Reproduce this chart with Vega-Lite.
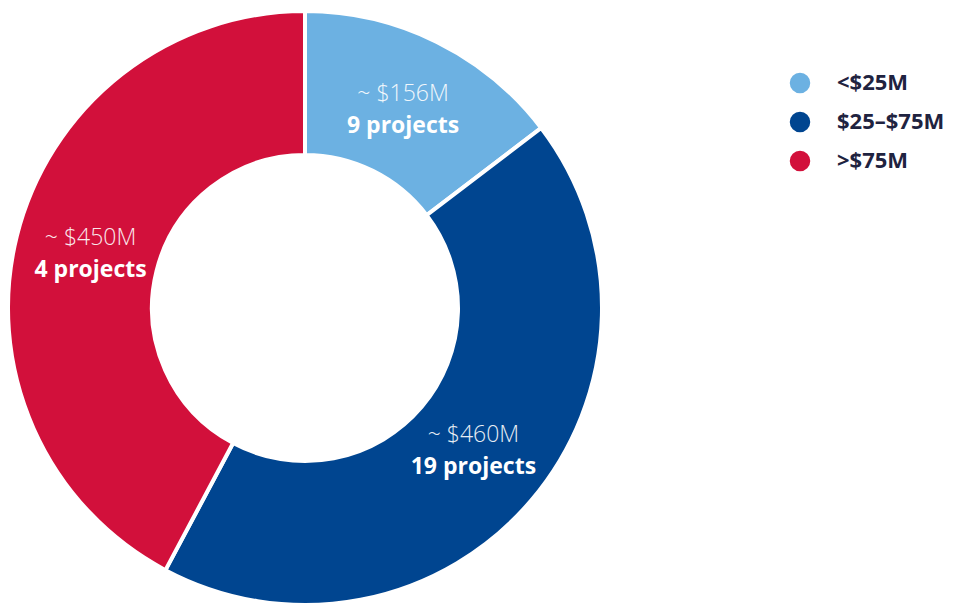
{
  "$schema": "https://vega.github.io/schema/vega-lite/v6.json",
  "width": 610,
  "height": 616,
  "padding": 0,
  "background": "white",
  "config": {"view": {"stroke": null}},
  "data": {
    "values": [
      {"band": "<$25M", "order": 1, "value": 156, "amount": "~ $156M", "projects": "9 projects"},
      {"band": "$25–$75M", "order": 2, "value": 460, "amount": "~ $460M", "projects": "19 projects"},
      {"band": ">$75M", "order": 3, "value": 450, "amount": "~ $450M", "projects": "4 projects"}
    ]
  },
  "encoding": {
    "theta": {"field": "value", "type": "quantitative", "stack": true},
    "order": {"field": "order", "type": "quantitative"}
  },
  "layer": [
    {
      "mark": {"type": "arc", "outerRadius": 297, "innerRadius": 153, "stroke": "white", "strokeWidth": 4},
      "encoding": {
        "color": {
          "field": "band",
          "type": "nominal",
          "scale": {"domain": ["<$25M", "$25–$75M", ">$75M"], "range": ["#6cb1e2", "#004590", "#d2103b"]},
          "legend": {
            "title": null,
            "orient": "none",
            "legendX": 789,
            "legendY": 72,
            "symbolType": "circle",
            "symbolSize": 420,
            "symbolStrokeWidth": 0,
            "labelFont": "Open Sans",
            "labelFontSize": 22,
            "labelFontWeight": "bold",
            "labelColor": "#1f2340",
            "labelOffset": 26,
            "rowPadding": 17,
            "padding": 0
          }
        }
      }
    },
    {
      "mark": {"type": "text", "radius": 221, "dy": -16, "font": "Open Sans", "fontSize": 23, "fontWeight": 300, "color": "white", "opacity": 0.9},
      "encoding": {"text": {"field": "amount"}}
    },
    {
      "mark": {"type": "text", "radius": 221, "dy": 16, "font": "Open Sans", "fontSize": 23, "fontWeight": "bold", "color": "white"},
      "encoding": {"text": {"field": "projects"}}
    }
  ]
}
